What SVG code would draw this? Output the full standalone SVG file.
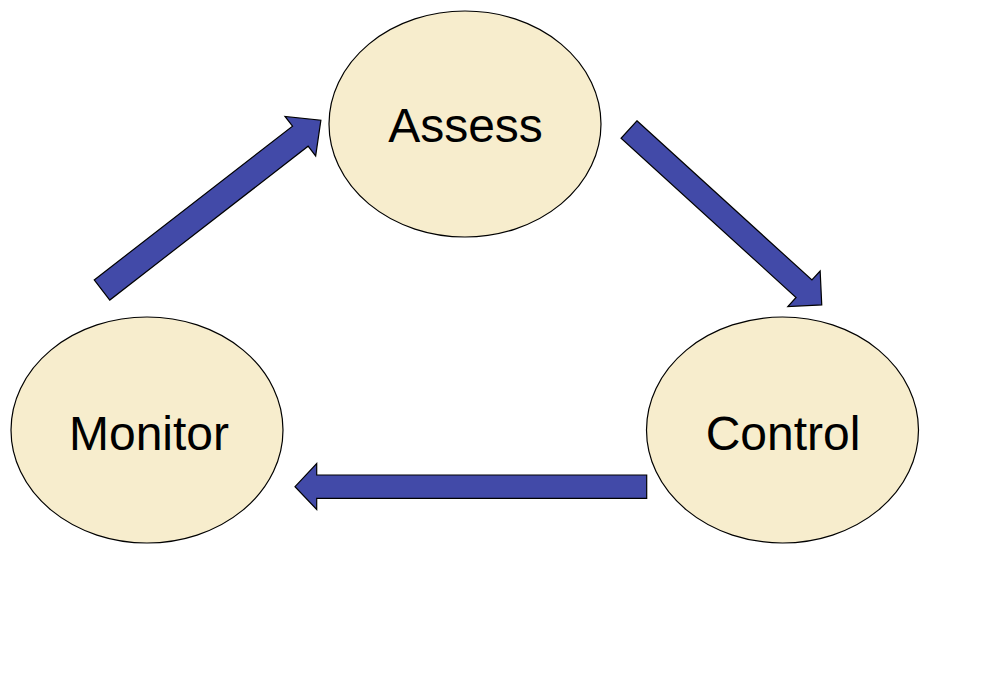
<svg xmlns="http://www.w3.org/2000/svg" width="996" height="697" viewBox="0 0 996 697">
<style>
.node ellipse{fill:#F7EDCD;stroke:#000;stroke-width:1.2}
.node text{font-family:"Liberation Sans",Arial,sans-serif;font-size:48px;fill:#000;text-anchor:middle}
.arrow{fill:#424AA8;stroke:#000;stroke-width:1.2;stroke-linejoin:miter}
</style>
<rect width="996" height="697" fill="#fff"/>
<g id="connectors">
<path class="arrow" transform="translate(102,290) rotate(-37.8)" d="M0,-12.7 L251,-12.7 L251,-25 L277,0 L251,25 L251,12.7 L0,12.7 Z"/>
<path class="arrow" transform="translate(629,129.5) rotate(42.3)" d="M0,-11.8 L236.6,-11.8 L236.6,-24 L260.6,0 L236.6,24 L236.6,11.8 L0,11.8 Z"/>
<path class="arrow" d="M646.7,475 L316.7,475 L316.7,463.5 L295,486.7 L316.7,509.5 L316.7,498.4 L646.7,498.4 Z"/>
</g>
<g id="assess" class="node">
<ellipse cx="465" cy="124" rx="136" ry="113"/>
<text x="465.5" y="142">Assess</text>
</g>
<g id="monitor" class="node">
<ellipse cx="147" cy="430" rx="136" ry="113"/>
<text x="149" y="450">Monitor</text>
</g>
<g id="control" class="node">
<ellipse cx="782.5" cy="430" rx="136" ry="113"/>
<text x="783" y="450">Control</text>
</g>
</svg>
